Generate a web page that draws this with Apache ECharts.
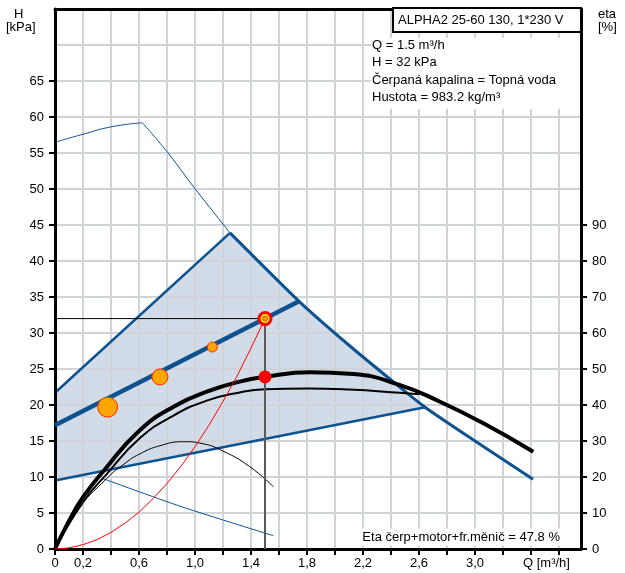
<!DOCTYPE html>
<html>
<head>
<meta charset="utf-8">
<script src="https://cdn.jsdelivr.net/npm/echarts@6/dist/echarts.min.js"></script>
<style>
  html, body { margin: 0; padding: 0; background: #fff; }
  #chart { width: 625px; height: 573px; }
</style>
</head>
<body>
<div id="chart"></div>
<script>
// ---- axes: ticks, labels and grid ----
const qTicks = [0, 0.2, 0.4, 0.6, 0.8, 1.0, 1.2, 1.4, 1.6, 1.8, 2.0, 2.2, 2.4, 2.6, 2.8, 3.0, 3.2, 3.4, 3.6];
const qLabels = [0, 0.2, 0.6, 1.0, 1.4, 1.8, 2.2, 2.6, 3.0];
const hLabels = [0, 5, 10, 15, 20, 25, 30, 35, 40, 45, 50, 55, 60, 65];
const etaLabels = [0, 10, 20, 30, 40, 50, 60, 70, 80, 90];
const gridQ = [0.2, 0.4, 0.6, 0.8, 1.0, 1.2, 1.4, 1.6, 1.8, 2.0, 2.2, 2.4, 2.6, 2.8, 3.0, 3.2, 3.4, 3.6];
const gridH = [5, 10, 15, 20, 25, 30, 35, 40, 45, 50, 55, 60, 65, 70];

// ---- operating range (shaded area) ----
const rangeQ = [0, 1.25, 1.743, 2.1, 2.443, 2.643, 0];
const rangeH = [21.7, 43.9, 34.4, 28.3, 22.8, 19.7, 9.5];

// max curve edges
const rightEdgeQ = [1.25, 1.743, 2.1, 2.443, 2.643, 3.0, 3.414];
const rightEdgeH = [43.9, 34.4, 28.3, 22.8, 19.7, 15.0, 9.7];
const leftEdgeQ = [0, 1.25];
const leftEdgeH = [21.7, 43.9];
const lowEdgeQ = [0, 2.643];
const lowEdgeH = [9.5, 19.7];

// proportional pressure curve through the duty point
const propQ = [0, 1.743];
const propH = [17.2, 34.4];

// thin blue curves
const topRiseQ = [0, 0.2, 0.405, 0.624];
const topRiseH = [56.5, 57.6, 58.65, 59.2];
const topFallQ = [0.624, 0.8, 0.99, 1.25];
const topFallH = [59.2, 55.2, 50.3, 43.9];
const minCurveQ = [0.34, 0.9, 1.56];
const minCurveH = [9.8, 5.9, 1.85];

// efficiency curves [%]
const etaMainQ = [0, 0.1, 0.2, 0.35, 0.6, 0.85, 1.1, 1.32, 1.5, 1.82, 2.13, 2.46, 2.75, 3.06, 3.416];
const etaMain = [0, 7.8, 14.4, 21.8, 32.8, 39.6, 43.9, 46.5, 47.8, 49.1, 48.6, 45.6, 40.9, 34.9, 27.0];
const etaMidQ = [0, 0.2, 0.369, 0.607, 0.843, 1.084, 1.32, 1.5, 1.8, 2.1, 2.464, 2.6];
const etaMid = [0, 13, 20.8, 30.8, 37.0, 41.2, 43.5, 44.4, 44.6, 44.3, 43.4, 43.0];
const etaLowQ = [0, 0.15, 0.37, 0.5, 0.6, 0.75, 0.92, 1.05, 1.2, 1.39, 1.56];
const etaLow = [0, 10.3, 19.6, 23.8, 26.3, 28.7, 29.8, 29.3, 27.2, 22.9, 17.3];

// system curve
const sysQ = [0, 0.1, 0.2, 0.3, 0.4, 0.5, 0.6, 0.7, 0.8, 0.9, 1.0, 1.1, 1.2, 1.3, 1.4, 1.5];
const sysH = [0, 0.15, 0.6, 1.3, 2.3, 3.6, 5.1, 7.0, 9.1, 11.5, 14.2, 17.2, 20.5, 24.0, 27.9, 32];

// operating points on the curve
const opQ = [0.376, 0.75, 1.124];
const opH = [19.7, 23.9, 28.05];
const opSize = [20, 16, 10];

// duty point
const dutyQ = 1.5;
const dutyH = 32;
const dutyEta = 47.8;

const FONT = 'Liberation Sans, Arial, sans-serif';
const BLUE = '#0e5290';
const GRID_COLOR = '#d0d4d8';
const Q_MAX = 3.757;
const H_MAX = 75;

const pairs = (xs, ys) => xs.map((x, i) => [x, ys[i]]);

function lineSeries(xs, ys, color, width, yAxisIndex, z, smooth) {
  return {
    type: 'line', data: pairs(xs, ys), yAxisIndex: yAxisIndex || 0,
    showSymbol: false, symbol: 'none', smooth: smooth || false,
    lineStyle: { color: color, width: width }, z: z || 3, silent: true
  };
}

const chart = echarts.init(document.getElementById('chart'), null, { renderer: 'canvas' });

const axisBlack = { show: true, onZero: false, lineStyle: { color: '#000', width: 3 } };
const tickStyle = { color: '#000', width: 2 };
const labelStyle = { color: '#000', fontSize: 13, fontFamily: FONT };

// one short line series per grid line
const gridSeries = [];
gridQ.forEach(q => gridSeries.push({
  type: 'line', z: 2, silent: true, showSymbol: false, symbol: 'none',
  data: [[q, 0], [q, H_MAX]], lineStyle: { color: GRID_COLOR, width: 2, opacity: 1 }
}));
gridH.forEach(h => gridSeries.push({
  type: 'line', z: 2, silent: true, showSymbol: false, symbol: 'none',
  data: [[0, h], [Q_MAX, h]], lineStyle: { color: GRID_COLOR, width: 2, opacity: 1 }
}));

const option = {
  animation: false,
  grid: { left: 55, top: 9, width: 526, height: 540, containLabel: false },
  xAxis: [
    {
      // bottom flow axis
      type: 'value', min: 0, max: Q_MAX, interval: 0.2, z: 4,
      axisLine: axisBlack,
      axisTick: { show: true, customValues: qTicks, length: 6, lineStyle: tickStyle },
      axisLabel: Object.assign({
        customValues: qLabels, margin: 8,
        formatter: v => (v === 0 ? '0' : v.toFixed(1).replace('.', ','))
      }, labelStyle),
      splitLine: { show: false }
    },
    {
      // top frame line
      type: 'value', position: 'top', min: 0, max: Q_MAX, z: 4,
      axisLine: axisBlack,
      axisTick: { show: false }, axisLabel: { show: false }, splitLine: { show: false }
    }
  ],
  yAxis: [
    {
      type: 'value', min: 0, max: H_MAX, interval: 5, position: 'left', z: 4,
      axisLine: axisBlack,
      axisTick: { show: true, customValues: hLabels, length: 6, lineStyle: tickStyle },
      axisLabel: Object.assign({ customValues: hLabels, margin: 11 }, labelStyle),
      splitLine: { show: false }
    },
    {
      type: 'value', min: 0, max: 150, interval: 10, position: 'right', z: 4,
      axisLine: axisBlack,
      axisTick: { show: true, customValues: etaLabels, length: 6, lineStyle: tickStyle },
      axisLabel: Object.assign({ customValues: etaLabels, margin: 11 }, labelStyle),
      splitLine: { show: false }
    }
  ],
  series: gridSeries.concat([
    // shaded operating range
    {
      type: 'custom', z: 1, silent: true,
      data: pairs(rangeQ, rangeH),
      renderItem: (params, api) => {
        if (params.dataIndex !== 0) return null;
        const pts = rangeQ.map((q, i) => api.coord([q, rangeH[i]]));
        return { type: 'polygon', shape: { points: pts }, style: { fill: '#d1dce8' } };
      }
    },
    lineSeries(leftEdgeQ, leftEdgeH, BLUE, 2.5, 0, 3),
    lineSeries(rightEdgeQ, rightEdgeH, BLUE, 3, 0, 3, 0.2),
    lineSeries(lowEdgeQ, lowEdgeH, BLUE, 2.5, 0, 3),
    lineSeries(topRiseQ, topRiseH, BLUE, 1, 0, 3, 0.5),
    lineSeries(topFallQ, topFallH, BLUE, 1, 0, 3, 0.3),
    lineSeries(minCurveQ, minCurveH, BLUE, 1, 0, 3, 0.3),
    lineSeries(propQ, propH, BLUE, 4.5, 0, 4),
    // efficiency curves
    lineSeries(etaLowQ, etaLow, '#000', 1, 1, 5, 0.5),
    lineSeries(etaMidQ, etaMid, '#000', 2, 1, 5, 0.5),
    lineSeries(etaMainQ, etaMain, '#000', 4, 1, 5, 0.5),
    // system curve
    lineSeries(sysQ, sysH, '#ff0000', 1, 0, 6),
    // duty point guide lines
    lineSeries([0, dutyQ], [dutyH, dutyH], '#000', 1, 0, 6),
    lineSeries([dutyQ, dutyQ], [0, dutyH], '#5a5a5a', 2, 0, 6),
    // operating points
    {
      type: 'scatter', z: 7, silent: true,
      data: opQ.map((q, i) => ({ value: [q, opH[i]], symbolSize: opSize[i] })),
      itemStyle: { color: '#ffa500', borderColor: '#ff2a00', borderWidth: 1, opacity: 1 }
    },
    // efficiency at duty point
    {
      type: 'scatter', z: 7, silent: true, yAxisIndex: 1,
      data: [[dutyQ, dutyEta]], symbolSize: 13,
      itemStyle: { color: '#ff0000', opacity: 1 }
    },
    // duty point marker
    {
      type: 'scatter', z: 8, silent: true,
      data: [[dutyQ, dutyH]], symbolSize: 12,
      itemStyle: { color: '#ffff00', borderColor: '#ff0000', borderWidth: 3, opacity: 1 }
    },
    {
      type: 'scatter', z: 9, silent: true,
      data: [[dutyQ, dutyH]], symbolSize: 5,
      itemStyle: { color: '#f5a000', borderColor: '#e04000', borderWidth: 1, opacity: 1 }
    }
  ]),
  graphic: [
    { type: 'text', z: 20, left: 14, top: 8, style: { text: 'H', font: '13px ' + FONT, fill: '#000' } },
    { type: 'text', z: 20, left: 6, top: 21, style: { text: '[kPa]', font: '13px ' + FONT, fill: '#000' } },
    { type: 'text', z: 20, left: 598, top: 8, style: { text: 'eta', font: '13px ' + FONT, fill: '#000' } },
    { type: 'text', z: 20, left: 598, top: 21, style: { text: '[%]', font: '13px ' + FONT, fill: '#000' } },
    // pump name box
    { type: 'rect', z: 20, shape: { x: 393, y: 8, width: 188, height: 24 },
      style: { fill: '#fff', stroke: '#000', lineWidth: 2 } },
    { type: 'text', z: 21, x: 398, y: 20, style: { text: 'ALPHA2 25-60 130, 1*230 V', font: '13px ' + FONT, fill: '#000', verticalAlign: 'middle' } },
    // duty information
    { type: 'rect', z: 20, shape: { x: 371, y: 38, width: 209, height: 71 }, style: { fill: '#fff' } },
    { type: 'text', z: 21, x: 372, y: 45, style: { text: 'Q = 1.5 m³/h', font: '13px ' + FONT, fill: '#000', verticalAlign: 'middle' } },
    { type: 'text', z: 21, x: 372, y: 62.5, style: { text: 'H = 32 kPa', font: '13px ' + FONT, fill: '#000', verticalAlign: 'middle' } },
    { type: 'text', z: 21, x: 372, y: 80, style: { text: 'Čerpaná kapalina = Topná voda', font: '13px ' + FONT, fill: '#000', verticalAlign: 'middle' } },
    { type: 'text', z: 21, x: 372, y: 97.5, style: { text: 'Hustota = 983.2 kg/m³', font: '13px ' + FONT, fill: '#000', verticalAlign: 'middle' } },
    // overall efficiency note
    { type: 'text', z: 21, x: 562, y: 537, style: { text: 'Eta čerp+motor+fr.měnič = 47.8 %', font: '13px ' + FONT, fill: '#000', align: 'right', verticalAlign: 'middle', backgroundColor: '#fff', padding: [2, 2, 2, 2] } },
    // flow axis name
    { type: 'text', z: 21, x: 523, y: 563, style: { text: 'Q [m³/h]', font: '13px ' + FONT, fill: '#000', verticalAlign: 'middle' } }
  ]
};

chart.setOption(option);
</script>
</body>
</html>
